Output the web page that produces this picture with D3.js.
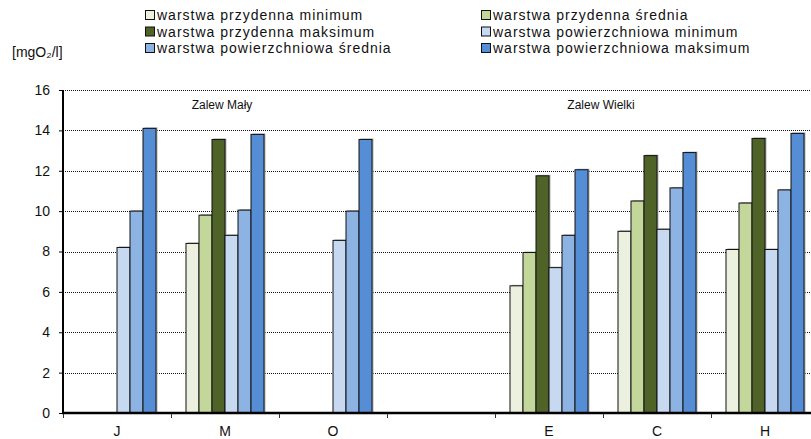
<!DOCTYPE html>
<html>
<head>
<meta charset="utf-8">
<script src="https://cdn.jsdelivr.net/npm/d3@7"></script>
<style>
    body { margin: 0; background: #fff; }
    .font { font-family: Arial, "Liberation Sans", sans-serif; fill: #111; }
    .legend-text { font-size: 14px; letter-spacing: 1px; }
</style>
</head>
<body>
<svg id="chart" width="811" height="439"></svg>
<script>
const SVG_WIDTH = 811;
const SVG_HEIGHT = 439;

// data
const CATEGORIES = ["J", "M", "O", "-", "E", "C", "H"];
const SERIES = [
    "warstwa przydenna minimum",
    "warstwa przydenna średnia",
    "warstwa przydenna maksimum",
    "warstwa powierzchniowa minimum",
    "warstwa powierzchniowa średnia",
    "warstwa powierzchniowa maksimum"
];
const BOTTOM_MIN = [null, 8.4, null, null, 6.3, 9.0, 8.1];
const BOTTOM_MEAN = [null, 9.8, null, null, 7.95, 10.5, 10.4];
const BOTTOM_MAX = [null, 13.55, null, null, 11.75, 12.75, 13.6];
const SURFACE_MIN = [8.2, 8.8, 8.55, null, 7.2, 9.1, 8.1];
const SURFACE_MEAN = [10.0, 10.05, 10.0, null, 8.8, 11.15, 11.05];
const SURFACE_MAX = [14.1, 13.8, 13.55, null, 12.05, 12.9, 13.85];
const Y_TICKS = [0, 2, 4, 6, 8, 10, 12, 14, 16];
const UNIT_LABEL = "[mgO₂/l]";
const REGION_LABELS = [
    { text: "Zalew Mały", category: "M" },
    { text: "Zalew Wielki", category: "-" }
];

const SERIES_VALUES = [BOTTOM_MIN, BOTTOM_MEAN, BOTTOM_MAX, SURFACE_MIN, SURFACE_MEAN, SURFACE_MAX];
const COLORS = ["#ebf1de", "#c4d79b", "#4f6228", "#c6d9f1", "#8db3e2", "#558ed5"];

const PLOT_LEFT = 63;
const PLOT_TOP = 90;
const PLOT_BOTTOM = 413;
const CATEGORY_WIDTH = 108;

svg = d3.select("#chart");

var xScale = d3.scaleBand()
    .domain(CATEGORIES)
    .range([PLOT_LEFT, PLOT_LEFT + CATEGORY_WIDTH * CATEGORIES.length]);
var xSubScale = d3.scaleBand()
    .domain(SERIES)
    .range([15, CATEGORY_WIDTH - 15]);
var yScale = d3.scaleLinear()
    .domain([0, 16])
    .range([PLOT_BOTTOM, PLOT_TOP]);

// dotted grid lines
svg.append("g")
    .selectAll("line")
    .data(Y_TICKS.filter(function(d) { return d > 0; }))
    .enter()
    .append("line")
    .attr("x1", PLOT_LEFT)
    .attr("x2", SVG_WIDTH)
    .attr("y1", function(d) { return Math.round(yScale(d)) + 0.5; })
    .attr("y2", function(d) { return Math.round(yScale(d)) + 0.5; })
    .attr("stroke", "#111")
    .attr("stroke-width", 1)
    .attr("stroke-dasharray", "1,1");

// bars
var barRows = [];
for (var s = 0; s < SERIES.length; s++) {
    for (var c = 0; c < CATEGORIES.length; c++) {
        if (SERIES_VALUES[s][c] !== null) {
            barRows.push({ series: SERIES[s], category: CATEGORIES[c], value: SERIES_VALUES[s][c], color: COLORS[s] });
        }
    }
}
var barGroup = svg.append("g");
barGroup.selectAll("rect.shadow")
    .data(barRows)
    .enter()
    .append("rect")
    .attr("class", "shadow")
    .attr("x", function(d) { return xScale(d.category) + xSubScale(d.series) + 1.5; })
    .attr("y", function(d) { return yScale(d.value) - 1; })
    .attr("width", xSubScale.bandwidth())
    .attr("height", function(d) { return PLOT_BOTTOM - yScale(d.value) + 1; })
    .attr("fill", "#b0b0b0");
barGroup.selectAll("rect.bar")
    .data(barRows)
    .enter()
    .append("rect")
    .attr("class", "bar")
    .attr("x", function(d) { return xScale(d.category) + xSubScale(d.series); })
    .attr("y", function(d) { return yScale(d.value); })
    .attr("width", xSubScale.bandwidth())
    .attr("height", function(d) { return PLOT_BOTTOM - yScale(d.value); })
    .attr("fill", function(d) { return d.color; })
    .attr("stroke", "#111")
    .attr("stroke-width", 1);

// y axis
var yAxis = d3.axisLeft(yScale)
    .tickValues(Y_TICKS)
    .tickSize(4)
    .tickPadding(9);
var yAxisG = svg.append("g")
    .attr("transform", "translate(" + PLOT_LEFT + ",0)")
    .call(yAxis);
yAxisG.select(".domain").attr("stroke", "#000").attr("stroke-width", 2).attr("d", "M0," + PLOT_TOP + "V" + (PLOT_BOTTOM + 1));
yAxisG.selectAll(".tick line").attr("stroke", "#000");
yAxisG.selectAll(".tick text")
    .style("font-family", "Arial, 'Liberation Sans', sans-serif")
    .style("font-size", "14px")
    .attr("fill", "#111");

// x axis
var xAxis = d3.axisBottom(xScale)
    .tickSize(0)
    .tickPadding(13)
    .tickFormat(function(d) { return d === "-" ? "" : d; });
var xAxisG = svg.append("g")
    .attr("transform", "translate(0," + PLOT_BOTTOM + ")")
    .call(xAxis);
xAxisG.select(".domain").attr("stroke", "#000").attr("stroke-width", 2.5).attr("d", "M" + (PLOT_LEFT - 1) + ",0H" + SVG_WIDTH);
xAxisG.selectAll(".tick text")
    .style("font-family", "Arial, 'Liberation Sans', sans-serif")
    .style("font-size", "14px")
    .attr("fill", "#111");
xAxisG.selectAll("line.boundary")
    .data(CATEGORIES)
    .enter()
    .append("line")
    .attr("class", "boundary")
    .attr("x1", function(d) { return xScale(d) + 0.5; })
    .attr("x2", function(d) { return xScale(d) + 0.5; })
    .attr("y1", 1)
    .attr("y2", 5)
    .attr("stroke", "#333");

// region labels
svg.selectAll("text.region")
    .data(REGION_LABELS)
    .enter()
    .append("text")
    .attr("class", "region font")
    .attr("x", function(d) { return xScale(d.category) + CATEGORY_WIDTH / 2 + (d.category === "M" ? -3 : 160); })
    .attr("y", 109)
    .attr("text-anchor", "middle")
    .style("font-size", "12px")
    .text(function(d) { return d.text; });

// unit label
svg.append("text")
    .attr("class", "font")
    .attr("x", 12)
    .attr("y", 57)
    .style("font-size", "14px")
    .text(UNIT_LABEL);

// legend: three rows, two columns, filled row by row
const LEGEND_COLUMNS_X = [145, 481];
const LEGEND_ROWS_Y = [15, 31.5, 48];
var legend = svg.append("g");
var legendItems = legend.selectAll("g")
    .data(SERIES)
    .enter()
    .append("g")
    .attr("transform", function(d, i) {
        return "translate(" + LEGEND_COLUMNS_X[i % 2] + "," + LEGEND_ROWS_Y[Math.floor(i / 2)] + ")";
    });
legendItems.append("rect")
    .attr("x", 0.5)
    .attr("y", -4.5)
    .attr("width", 9)
    .attr("height", 9)
    .attr("fill", function(d, i) { return COLORS[i]; })
    .attr("stroke", "#111")
    .attr("stroke-width", 1);
legendItems.append("text")
    .attr("class", "font legend-text")
    .attr("x", 12)
    .attr("y", 0)
    .attr("dominant-baseline", "central")
    .text(function(d) { return d; });
</script>
</body>
</html>
